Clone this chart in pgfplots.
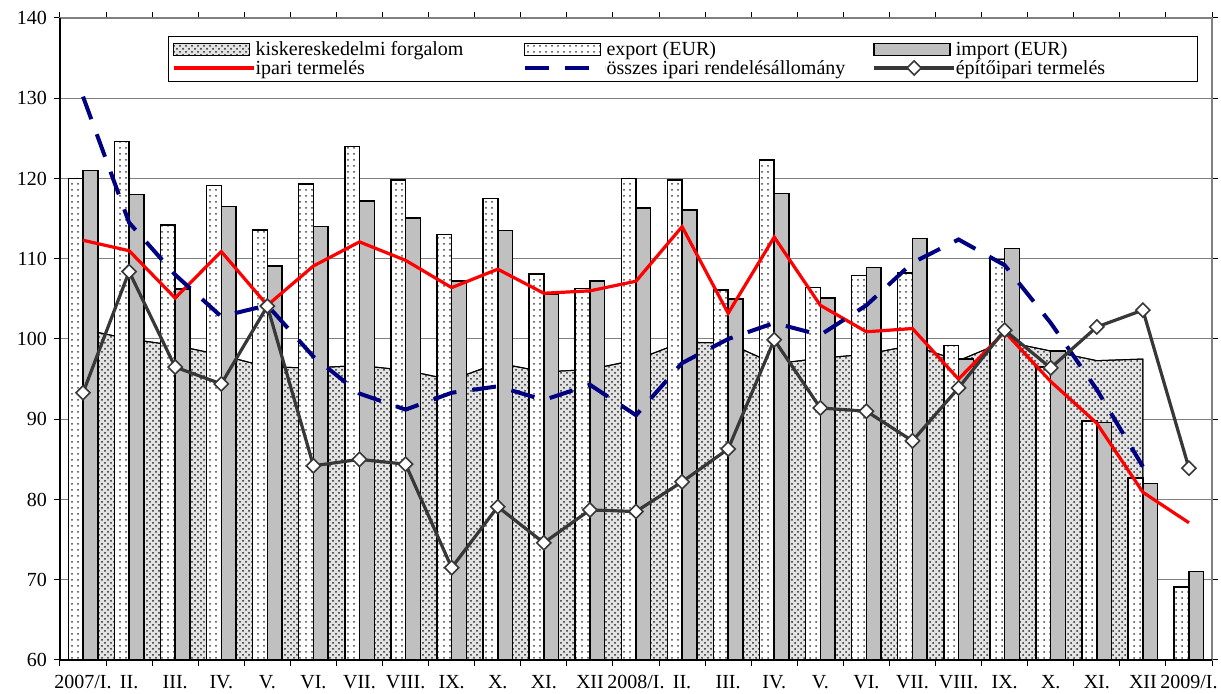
\documentclass[border=0pt]{standalone}
\usepackage{fontspec}
\setmainfont{Liberation Serif}
\usepackage{pgfplots}
\pgfplotsset{compat=1.18}
\usetikzlibrary{patterns}
\definecolor{importgray}{RGB}{192,192,192}
\definecolor{navyblue}{RGB}{0,0,128}
\definecolor{darkline}{RGB}{55,55,55}
\newcommand{\legwidth}{\pgfpathmoveto{\pgfpoint{0pt}{0pt}}\pgfpathlineto{\pgfpoint{40.5pt}{0pt}}\pgfusepath{}}
\pgfplotsset{
  patchlegend/.style={legend image code/.code={\legwidth \draw[##1] (0pt,-3pt) rectangle (38pt,3pt);}},
  linelegend/.style={legend image code/.code={\legwidth \draw[##1] (0pt,0pt) -- (40pt,0pt);}},
  marklegend/.style={legend image code/.code={\legwidth \draw[mark repeat=2, mark phase=2, ##1] plot coordinates {(0pt,0pt)(20pt,0pt)(40pt,0pt)};}},
}
\begin{document}
\begin{tikzpicture}
\begin{axis}[
  scale only axis, width=576pt, height=321pt,
  xmin=-0.5, xmax=24.5, ymin=60, ymax=140,
  ytick={60,70,...,140},
  xtick={-0.5,0.5,...,24.5}, xticklabels={},
  extra x ticks={0,1,...,24},
  extra x tick labels={2007/I.,II.,III.,IV.,V.,VI.,VII.,VIII.,IX.,X.,XI.,XII,2008/I.,II.,III.,IV.,V.,VI.,VII.,VIII.,IX.,X.,XI.,XII,2009/I.},
  extra x tick style={major tick length=0pt, grid=none},
  tick align=outside, major tick length=3pt, tick style={black, line width=0.5pt},
  xticklabel style={yshift=-4pt},
  ymajorgrids, grid style={gray, line width=0.5pt},
  axis line style={draw=gray, line width=0.6pt},
  ticklabel style={font=\fontsize{10}{12}\selectfont},
  /pgf/number format/assume math mode=true,
  legend columns=3,
  legend cell align=left,
  legend style={at={(0.09375,0.972)}, anchor=north west, draw=black,
    inner xsep=2pt, inner ysep=2pt, column sep=0pt, row sep=0pt,
    nodes={inner sep=0pt}, font=\fontsize{10}{11}\selectfont},
]
% retail area
\addplot[draw=black, line width=0.5pt, preaction={fill=gray!22}, pattern=crosshatch dots, pattern color=black!85, patchlegend]
  coordinates {(0,101.2)(1,100.0)(2,99.2)(3,98.0)(4,96.5)(5,96.4)(6,96.7)(7,96.1)(8,94.9)(9,97.0)(10,95.9)(11,96.2)
  (12,97.4)(13,99.6)(14,99.5)(15,96.9)(16,97.6)(17,98.1)(18,99.2)(19,97.3)(20,99.7)(21,98.5)(22,97.3)(23,97.5)} \closedcycle;
\addlegendentry{\makebox[133.5pt][l]{\strut kiskereskedelmi forgalom}}
% export
\addplot[ybar, bar width=0.32, bar shift=-0.16, draw=black, line width=0.75pt, preaction={fill=white}, pattern=dots, pattern color=black!75, patchlegend]
  coordinates {(0,120.0)(1,124.6)(2,114.2)(3,119.1)(4,113.6)(5,119.3)(6,124.0)(7,119.8)(8,113.0)(9,117.5)(10,108.1)(11,106.3)
  (12,120.0)(13,119.8)(14,106.1)(15,122.3)(16,106.4)(17,107.9)(18,108.2)(19,99.2)(20,109.9)(21,96.5)(22,89.8)(23,82.7)(24,69.1)};
\addlegendentry{\makebox[133pt][l]{\strut export (EUR)}}
% import
\addplot[ybar, bar width=0.32, bar shift=0.16, draw=black, line width=0.75pt, fill=importgray, patchlegend]
  coordinates {(0,121.0)(1,118.0)(2,106.2)(3,116.5)(4,109.1)(5,114.0)(6,117.2)(7,115.1)(8,107.2)(9,113.5)(10,105.6)(11,107.2)
  (12,116.3)(13,116.1)(14,105.0)(15,118.1)(16,105.1)(17,108.9)(18,112.5)(19,97.5)(20,111.3)(21,98.5)(22,89.6)(23,82.0)(24,71.0)};
\addlegendentry{\makebox[119pt][l]{\strut import (EUR)}}
% ipari termeles
\addplot[red, line width=1.6pt, mark=none, linelegend]
  coordinates {(0,112.3)(1,111.0)(2,105.1)(3,110.9)(4,104.2)(5,109.1)(6,112.1)(7,109.8)(8,106.4)(9,108.7)(10,105.7)(11,106.0)
  (12,107.2)(13,114.0)(14,103.2)(15,112.7)(16,104.2)(17,100.9)(18,101.3)(19,95.0)(20,100.9)(21,94.7)(22,89.5)(23,80.9)(24,77.1)};
\addlegendentry{\makebox[133.5pt][l]{\strut ipari termelés}}
% rendelesallomany
\addplot[navyblue, line width=2pt, dash pattern=on 12pt off 8pt, mark=none, linelegend]
  coordinates {(0,130.2)(1,114.5)(2,108.0)(3,102.8)(4,104.2)(5,97.8)(6,93.2)(7,91.2)(8,93.3)(9,94.1)(10,92.4)(11,94.3)
  (12,90.5)(13,97.0)(14,100.0)(15,102.0)(16,100.5)(17,104.2)(18,109.5)(19,112.4)(20,109.2)(21,102.0)(22,93.7)(23,84.1)};
\addlegendentry{\makebox[133pt][l]{\strut összes ipari rendelésállomány}}
% epitoipari termeles
\addplot[darkline, line width=1.6pt, mark=square*, mark size=2.5pt,
  mark options={rotate=45, fill=white, draw=darkline, solid, line width=0.8pt}, marklegend]
  coordinates {(0,93.3)(1,108.4)(2,96.5)(3,94.4)(4,104.1)(5,84.2)(6,85.0)(7,84.4)(8,71.5)(9,79.1)(10,74.6)(11,78.7)
  (12,78.5)(13,82.2)(14,86.3)(15,99.9)(16,91.4)(17,91.0)(18,87.3)(19,93.9)(20,101.1)(21,96.4)(22,101.5)(23,103.6)(24,83.9)};
\addlegendentry{\makebox[119pt][l]{\strut építőipari termelés}}
\end{axis}
\draw[black, line width=0.8pt] (current axis.north west) -- (current axis.south west) -- (current axis.south east);
\pgfresetboundingbox
\useasboundingbox ([shift={(-30pt,-17pt)}]current axis.south west) rectangle ([shift={(4.5pt,9pt)}]current axis.north east);
\end{tikzpicture}
\end{document}
